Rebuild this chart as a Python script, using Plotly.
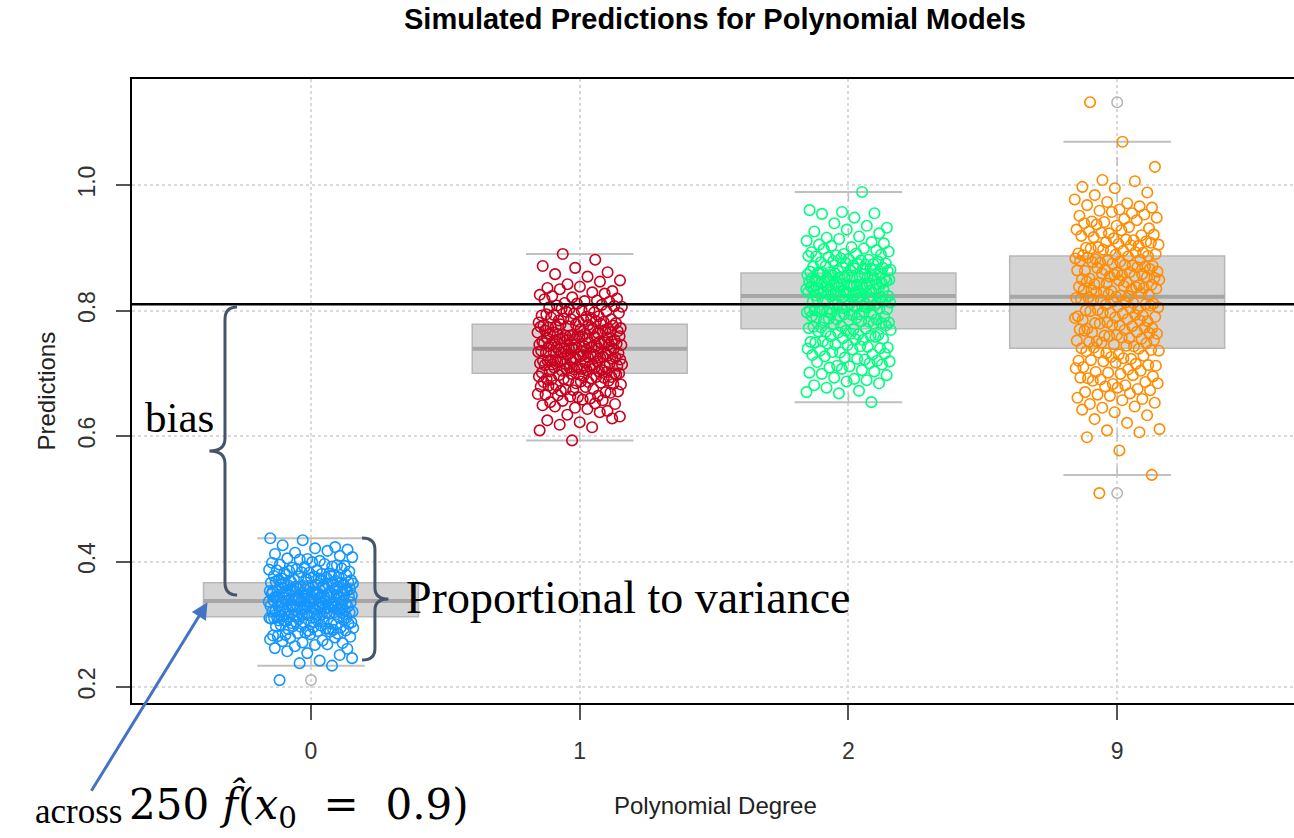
import numpy as np
import plotly.graph_objects as go

# ---- data -------------------------------------------------------------
degrees = ["0", "1", "2", "9"]
colors = ["#1496ff", "#c8001e", "#00ff80", "#ff8c00"]

# 250 simulated predictions f_hat(x0 = 0.9) for each polynomial degree
deg0 = [
    0.211, 0.234, 0.238, 0.246, 0.242, 0.257, 0.251, 0.254,
    0.262, 0.268, 0.265, 0.261, 0.267,
    0.273, 0.279, 0.271, 0.276, 0.274, 0.278, 0.270,
    0.284, 0.281, 0.288, 0.286, 0.280, 0.289, 0.283, 0.285, 0.287, 0.282,
    0.293, 0.297, 0.290, 0.295, 0.299, 0.291, 0.296, 0.294, 0.298, 0.292, 0.295, 0.290, 0.297, 0.293,
    0.304, 0.301, 0.308, 0.306, 0.300, 0.303, 0.309, 0.305, 0.302, 0.307, 0.304, 0.306, 0.301, 0.308, 0.303, 0.309, 0.305,
    0.312, 0.316, 0.310, 0.318, 0.314, 0.311, 0.317, 0.313, 0.319, 0.315, 0.310, 0.316, 0.312, 0.318, 0.314, 0.311, 0.317, 0.313, 0.319, 0.315, 0.316,
    0.323, 0.327, 0.320, 0.325, 0.329, 0.322, 0.326, 0.321, 0.328, 0.324, 0.320, 0.327, 0.323, 0.325, 0.329, 0.321, 0.326, 0.322, 0.328, 0.324, 0.325, 0.327, 0.323, 0.329,
    0.334, 0.331, 0.338, 0.336, 0.330, 0.333, 0.339, 0.335, 0.332, 0.337, 0.334, 0.331, 0.338, 0.336, 0.330, 0.333, 0.339, 0.335, 0.332, 0.337, 0.336, 0.334, 0.338, 0.331, 0.335,
    0.343, 0.347, 0.340, 0.345, 0.349, 0.342, 0.346, 0.341, 0.348, 0.344, 0.340, 0.347, 0.343, 0.345, 0.349, 0.341, 0.346, 0.342, 0.348, 0.344, 0.345, 0.343, 0.347, 0.341,
    0.354, 0.351, 0.358, 0.356, 0.350, 0.353, 0.359, 0.355, 0.352, 0.357, 0.354, 0.351, 0.358, 0.356, 0.350, 0.353, 0.359, 0.355, 0.352, 0.357, 0.354, 0.356, 0.352,
    0.363, 0.367, 0.360, 0.365, 0.369, 0.362, 0.366, 0.361, 0.368, 0.364, 0.360, 0.367, 0.363, 0.365, 0.369, 0.361, 0.366, 0.362, 0.368, 0.364,
    0.374, 0.371, 0.378, 0.376, 0.370, 0.373, 0.379, 0.375, 0.372, 0.377, 0.374, 0.371, 0.378, 0.376, 0.373, 0.379,
    0.383, 0.387, 0.380, 0.385, 0.389, 0.382, 0.386, 0.381, 0.388, 0.384, 0.386, 0.382,
    0.394, 0.391, 0.398, 0.396, 0.390, 0.393, 0.399, 0.395, 0.392,
    0.403, 0.407, 0.401, 0.405, 0.409, 0.404,
    0.412, 0.417, 0.414, 0.419, 0.421, 0.426, 0.423, 0.434, 0.437,
]

deg1 = [
    0.593, 0.609, 0.614, 0.618, 0.628, 0.622, 0.625, 0.638, 0.634, 0.631,
    0.643, 0.647, 0.640, 0.645, 0.649,
    0.652, 0.656, 0.651, 0.658, 0.654, 0.657,
    0.663, 0.667, 0.660, 0.665, 0.669, 0.662, 0.666, 0.664,
    0.674, 0.671, 0.678, 0.676, 0.670, 0.673, 0.679, 0.675, 0.672,
    0.683, 0.687, 0.680, 0.685, 0.689, 0.682, 0.686, 0.681, 0.688, 0.684, 0.686,
    0.694, 0.691, 0.698, 0.696, 0.690, 0.693, 0.699, 0.695, 0.692, 0.697, 0.694, 0.698, 0.691,
    0.703, 0.707, 0.700, 0.705, 0.709, 0.702, 0.706, 0.701, 0.708, 0.704, 0.700, 0.707, 0.703, 0.705, 0.709,
    0.714, 0.711, 0.718, 0.716, 0.710, 0.713, 0.719, 0.715, 0.712, 0.717, 0.714, 0.711, 0.718, 0.716, 0.713, 0.719,
    0.723, 0.727, 0.720, 0.725, 0.729, 0.722, 0.726, 0.721, 0.728, 0.724, 0.720, 0.727, 0.723, 0.725, 0.729, 0.721, 0.726, 0.722,
    0.734, 0.731, 0.738, 0.736, 0.730, 0.733, 0.739, 0.735, 0.732, 0.737, 0.734, 0.731, 0.738, 0.736, 0.730, 0.733, 0.739, 0.735,
    0.743, 0.747, 0.740, 0.745, 0.749, 0.742, 0.746, 0.741, 0.748, 0.744, 0.740, 0.747, 0.743, 0.745, 0.749, 0.741, 0.746, 0.742,
    0.754, 0.751, 0.758, 0.756, 0.750, 0.753, 0.759, 0.755, 0.752, 0.757, 0.754, 0.751, 0.758, 0.756, 0.753, 0.759,
    0.763, 0.767, 0.760, 0.765, 0.769, 0.762, 0.766, 0.761, 0.768, 0.764, 0.760, 0.767, 0.763, 0.765, 0.769, 0.761,
    0.774, 0.771, 0.778, 0.776, 0.770, 0.773, 0.779, 0.775, 0.772, 0.777, 0.774, 0.771, 0.778, 0.776,
    0.783, 0.787, 0.780, 0.785, 0.789, 0.782, 0.786, 0.781, 0.788, 0.784, 0.786, 0.782,
    0.794, 0.791, 0.798, 0.796, 0.790, 0.793, 0.799, 0.795, 0.792, 0.797,
    0.803, 0.807, 0.800, 0.805, 0.809, 0.802, 0.806, 0.801, 0.808,
    0.814, 0.811, 0.818, 0.816, 0.812, 0.819, 0.815,
    0.823, 0.827, 0.821, 0.825, 0.829, 0.834, 0.831, 0.838, 0.836,
    0.846, 0.842, 0.848, 0.854, 0.858, 0.861, 0.868, 0.871, 0.881, 0.890,
]

deg2 = [
    0.654, 0.668, 0.670, 0.672, 0.677, 0.684, 0.687, 0.681, 0.689,
    0.693, 0.697, 0.691, 0.699, 0.703, 0.707, 0.701, 0.705, 0.709,
    0.714, 0.711, 0.718, 0.716, 0.712, 0.719,
    0.723, 0.727, 0.720, 0.725, 0.729, 0.722,
    0.734, 0.731, 0.738, 0.736, 0.730, 0.733, 0.739,
    0.743, 0.747, 0.740, 0.745, 0.749, 0.742, 0.746, 0.741,
    0.754, 0.751, 0.758, 0.756, 0.750, 0.753, 0.759, 0.755,
    0.763, 0.767, 0.760, 0.765, 0.769, 0.762, 0.766, 0.761, 0.768,
    0.774, 0.771, 0.778, 0.776, 0.770, 0.773, 0.779, 0.775, 0.772,
    0.783, 0.787, 0.780, 0.785, 0.789, 0.782, 0.786, 0.781, 0.788, 0.784, 0.786,
    0.794, 0.791, 0.798, 0.796, 0.790, 0.793, 0.799, 0.795, 0.792, 0.797, 0.794, 0.798,
    0.803, 0.807, 0.800, 0.805, 0.809, 0.802, 0.806, 0.801, 0.808, 0.804, 0.800, 0.807, 0.803,
    0.814, 0.811, 0.818, 0.816, 0.810, 0.813, 0.819, 0.815, 0.812, 0.817, 0.814, 0.811, 0.818, 0.816,
    0.823, 0.827, 0.820, 0.825, 0.829, 0.822, 0.826, 0.821, 0.828, 0.824, 0.820, 0.827, 0.823, 0.825, 0.829,
    0.834, 0.831, 0.838, 0.836, 0.830, 0.833, 0.839, 0.835, 0.832, 0.837, 0.834, 0.831, 0.838, 0.836, 0.830, 0.833, 0.839,
    0.843, 0.847, 0.840, 0.845, 0.849, 0.842, 0.846, 0.841, 0.848, 0.844, 0.840, 0.847, 0.843, 0.845, 0.849, 0.841, 0.846, 0.842,
    0.854, 0.851, 0.858, 0.856, 0.850, 0.853, 0.859, 0.855, 0.852, 0.857, 0.854, 0.851, 0.858, 0.856, 0.850, 0.853, 0.859,
    0.863, 0.867, 0.860, 0.865, 0.869, 0.862, 0.866, 0.861, 0.868, 0.864, 0.860, 0.867, 0.863, 0.865,
    0.874, 0.871, 0.878, 0.876, 0.870, 0.873, 0.879, 0.875, 0.872, 0.877, 0.874,
    0.883, 0.887, 0.880, 0.885, 0.889, 0.882, 0.886, 0.881, 0.888,
    0.894, 0.891, 0.898, 0.896, 0.890, 0.893, 0.899,
    0.903, 0.907, 0.901, 0.905, 0.909, 0.914, 0.911, 0.918, 0.916,
    0.923, 0.929, 0.926, 0.935, 0.939, 0.932, 0.948,
    0.954, 0.955, 0.957, 0.960, 0.989,
]

deg9 = [
    0.509, 0.538, 0.577, 0.598, 0.606, 0.609, 0.611, 0.621, 0.627,
    0.633, 0.638, 0.642, 0.647, 0.645,
    0.653, 0.657, 0.651, 0.659, 0.664, 0.661, 0.668, 0.666,
    0.673, 0.677, 0.670, 0.675, 0.679, 0.684, 0.681, 0.688, 0.686, 0.683,
    0.693, 0.697, 0.690, 0.695, 0.699, 0.692, 0.704, 0.701, 0.708, 0.706, 0.702,
    0.713, 0.717, 0.710, 0.715, 0.719, 0.712, 0.724, 0.721, 0.728, 0.726, 0.720, 0.723,
    0.733, 0.737, 0.730, 0.735, 0.739, 0.732, 0.736,
    0.744, 0.741, 0.748, 0.746, 0.740, 0.743, 0.749,
    0.753, 0.757, 0.750, 0.755, 0.759, 0.752, 0.756, 0.751,
    0.764, 0.761, 0.768, 0.766, 0.760, 0.763, 0.769, 0.765,
    0.773, 0.777, 0.770, 0.775, 0.779, 0.772, 0.776, 0.771,
    0.784, 0.781, 0.788, 0.786, 0.780, 0.783, 0.789, 0.785,
    0.793, 0.797, 0.790, 0.795, 0.799, 0.792, 0.796, 0.791,
    0.804, 0.801, 0.808, 0.806, 0.800, 0.803, 0.809, 0.805,
    0.813, 0.817, 0.810, 0.815, 0.819, 0.812, 0.816, 0.811,
    0.824, 0.821, 0.828, 0.826, 0.820, 0.823, 0.829, 0.825, 0.822,
    0.833, 0.837, 0.830, 0.835, 0.839, 0.832, 0.836, 0.831, 0.838, 0.834,
    0.844, 0.841, 0.848, 0.846, 0.840, 0.843, 0.849, 0.845, 0.842,
    0.853, 0.857, 0.850, 0.855, 0.859, 0.852, 0.856, 0.851, 0.858, 0.854,
    0.864, 0.861, 0.868, 0.866, 0.860, 0.863, 0.869, 0.865, 0.862,
    0.873, 0.877, 0.870, 0.875, 0.879, 0.872, 0.876, 0.871, 0.878,
    0.884, 0.881, 0.880, 0.883, 0.886, 0.882, 0.887, 0.889, 0.888,
    0.893, 0.897, 0.890, 0.895, 0.899, 0.892, 0.896, 0.891,
    0.904, 0.901, 0.908, 0.906, 0.900, 0.903, 0.909, 0.905,
    0.913, 0.917, 0.910, 0.915, 0.919, 0.912,
    0.924, 0.921, 0.928, 0.926, 0.920, 0.923, 0.929,
    0.933, 0.937, 0.931, 0.935, 0.939,
    0.944, 0.941, 0.948, 0.946, 0.942,
    0.953, 0.957, 0.951, 0.955, 0.959,
    0.964, 0.961, 0.968, 0.966, 0.973, 0.977, 0.971,
    0.984, 0.988, 0.995, 0.997, 1.006, 1.008, 1.029, 1.069, 1.132,
]

predictions = [deg0, deg1, deg2, deg9]

# boxplot statistics per degree
q1 = [0.312, 0.700, 0.771, 0.740]
median = [0.337, 0.739, 0.823, 0.822]
q3 = [0.366, 0.778, 0.860, 0.887]
whisker_lo = [0.234, 0.593, 0.654, 0.538]
whisker_hi = [0.437, 0.890, 0.989, 1.069]

truth = 0.81            # true f(x0 = 0.9)
yticks = [0.2, 0.4, 0.6, 0.8, 1.0]

# ---- layout helpers -----------------------------------------------------
W, H = 1294, 838
L, R, T, B = 132, 0, 79, 135
XR = [-0.666, 3.658]
YR = [0.1745, 1.169]
PW, PH = W - L - R, H - T - B


def px_x(p):
    return (p - L) / PW


def px_y(p):
    return (H - B - p) / PH


def jitter(n, phase, half=0.158):
    k = np.arange(n)
    return ((k * 0.6180339887 + phase) % 1.0 - 0.5) * 2 * half


fig = go.Figure()

# box bodies, medians, whiskers and staples
box_fill, box_line, med_col, wh_col = "#d4d4d4", "#b8b8b8", "#a6a6a6", "#c0c0c0"
for i in range(len(degrees)):
    fig.add_shape(type="rect", x0=i - 0.4, x1=i + 0.4, y0=q1[i], y1=q3[i],
                  fillcolor=box_fill, line=dict(color=box_line, width=1.5), layer="between")
    fig.add_shape(type="line", x0=i - 0.4, x1=i + 0.4, y0=median[i], y1=median[i],
                  line=dict(color=med_col, width=4), layer="between")
    fig.add_shape(type="line", x0=i, x1=i, y0=q3[i], y1=whisker_hi[i],
                  line=dict(color=wh_col, width=1.5, dash="dash"), layer="between")
    fig.add_shape(type="line", x0=i, x1=i, y0=whisker_lo[i], y1=q1[i],
                  line=dict(color=wh_col, width=1.5, dash="dash"), layer="between")
    for yv in (whisker_lo[i], whisker_hi[i]):
        fig.add_shape(type="line", x0=i - 0.2, x1=i + 0.2, y0=yv, y1=yv,
                      line=dict(color=wh_col, width=2), layer="between")

# outliers beyond the whiskers, drawn at the box centre
for i, vals in enumerate(predictions):
    out = [v for v in vals if v < whisker_lo[i] or v > whisker_hi[i]]
    if out:
        fig.add_trace(go.Scatter(
            x=[i] * len(out), y=out, mode="markers", showlegend=False,
            marker=dict(symbol="circle-open", size=10.5, color="#b3b3b3",
                        line=dict(width=1.5)),
        ))

# jittered predictions
phases = [0.13, 0.41, 0.77, 0.29]
for i, vals in enumerate(predictions):
    fig.add_trace(go.Scatter(
        x=i + jitter(len(vals), phases[i]), y=vals, mode="markers",
        showlegend=False,
        marker=dict(symbol="circle-open", size=10.5, color=colors[i],
                    line=dict(width=1.6)),
    ))

# true value
fig.add_shape(type="line", xref="paper", x0=0, x1=1, y0=truth, y1=truth,
              line=dict(color="black", width=2.5), layer="above")


def brace(xv, xe, xt, ytop, ybot, ry):
    ym = (ytop + ybot) / 2
    return (f"M {xe},{ytop} Q {xv},{ytop} {xv},{ytop - ry} "
            f"L {xv},{ym + ry} Q {xv},{ym} {xt},{ym} "
            f"Q {xv},{ym} {xv},{ym - ry} L {xv},{ybot + ry} "
            f"Q {xv},{ybot} {xe},{ybot}")


brace_col = "#44546a"
fig.add_shape(type="path", path=brace(-0.320, -0.275, -0.378, 0.8055, 0.3466, 0.02),
              line=dict(color=brace_col, width=3), layer="above")
fig.add_shape(type="path", path=brace(0.238, 0.190, 0.288, 0.4375, 0.2430, 0.018),
              line=dict(color=brace_col, width=3), layer="above")

serif = "Liberation Serif"
annotations = [
    dict(x=-0.4875, y=0.629, xref="x", yref="y", text="bias", showarrow=False,
         font=dict(family=serif, size=43, color="black")),
    dict(x=0.348, y=0.343, xref="x", yref="y", text="Proportional to variance",
         xanchor="left", showarrow=False,
         font=dict(family=serif, size=46, color="black")),
    # arrow pointing at the degree-0 median
    dict(x=-0.385, y=0.335, xref="x", yref="y", text="", showarrow=True,
         ax=-117, ay=190, arrowhead=2, arrowsize=1.1, arrowwidth=3,
         arrowcolor="#4472c4", standoff=0),
    dict(x=px_x(33), y=px_y(811), xref="paper", yref="paper",
         text="across", xanchor="left", yanchor="middle",
         showarrow=False, font=dict(family=serif, size=35, color="black")),
    dict(x=px_x(127), y=px_y(806), xref="paper", yref="paper",
         text="250 <i>f\u0302</i>(<i>x</i><sub>0</sub>&nbsp;&nbsp;=&nbsp;&nbsp;0.9)",
         xanchor="left", yanchor="middle", showarrow=False,
         font=dict(family="DejaVu Serif", size=42, color="black")),
    # axis titles
    dict(x=px_x(715), y=px_y(805), xref="paper", yref="paper",
         text="Polynomial Degree", showarrow=False, yanchor="middle",
         font=dict(family="Liberation Sans", size=24, color="#222222")),
    dict(x=px_x(30), y=px_y(391), xref="paper", yref="paper",
         text="Predictions", textangle=-90, showarrow=False,
         font=dict(family="Liberation Sans", size=24, color="#222222")),
]

fig.update_layout(
    width=W, height=H, template="none",
    margin=dict(l=L, r=R, t=T, b=B, pad=0),
    paper_bgcolor="white", plot_bgcolor="white",
    showlegend=False,
    title=dict(text="Simulated Predictions for Polynomial Models",
               x=715 / W, xanchor="center",
               y=1 - 19 / H, yanchor="middle",
               font=dict(family="Liberation Sans", size=29, color="black",
                         weight="bold")),
    annotations=annotations,
    xaxis=dict(range=XR, tickvals=list(range(len(degrees))), ticktext=degrees,
               showgrid=True, gridcolor="#d9d9d9", griddash="dot", gridwidth=1.5,
               zeroline=False, showline=True, linecolor="black", linewidth=1.5,
               mirror=True, ticks="outside", ticklen=15, tickwidth=1.5,
               tickcolor="#555555", ticklabelstandoff=12,
               tickfont=dict(family="Liberation Sans", size=23, color="#333333")),
    yaxis=dict(range=YR, tickvals=yticks, ticktext=[f"{v:.1f}" for v in yticks],
               showgrid=True, gridcolor="#d9d9d9", griddash="dot", gridwidth=1.5,
               zeroline=False, showline=True, linecolor="black", linewidth=1.5,
               mirror=False, ticks="outside", ticklen=14, tickwidth=1.5,
               tickcolor="#555555", tickangle=-90, ticklabelstandoff=12,
               tickfont=dict(family="Liberation Sans", size=23, color="#333333")),
)

fig.write_html("out.html")
